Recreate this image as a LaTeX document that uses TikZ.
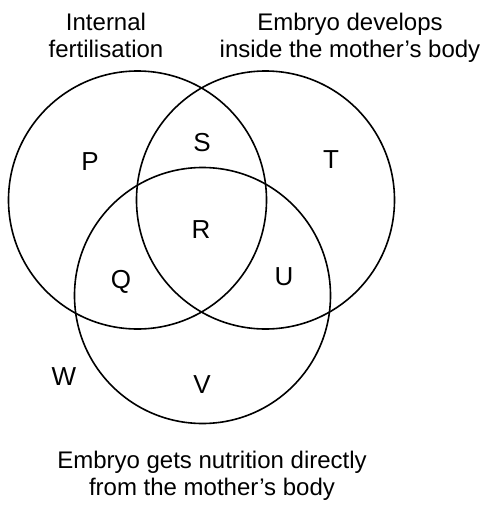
\documentclass[tikz,border=0pt]{standalone}
\usepackage{fontspec}
\setmainfont{Liberation Sans}
\usetikzlibrary{positioning}

\begin{document}
\begin{tikzpicture}[x=1pt,y=-1pt,
  ring/.style={draw,line width=1.6pt},
  zone/.style={font=\fontsize{26}{26}\selectfont,inner sep=0pt},
  ttl/.style={font=\fontsize{24}{27}\selectfont,align=center,inner sep=0pt,anchor=north}]
  \useasboundingbox (0,0) rectangle (483,509);
  \coordinate (cFert) at (137.5,200);
  \coordinate (cWomb) at (265.5,200);
  \coordinate (cFeed) at (202.5,295.5);
  \draw[ring] (cFert) circle[radius=129pt];
  \draw[ring] (cWomb) circle[radius=129pt];
  \draw[ring] (cFeed) circle[radius=128pt];
  % region letters
  \node[zone] (P) at (90,162) {P};
  \node[zone] (S) at (202,143) {S};
  \node[zone] (T) at (331,160) {T};
  \node[zone] (R) at (201,230) {R};
  \node[zone] (Q) at (121,282) {Q};
  \node[zone] (U) at (284,277) {U};
  \node[zone] (W) at (64,377) {W};
  \node[zone] (V) at (202,385) {V};
  % set titles
  \node[ttl] (fert) at (106,12.5) {Internal\\fertilisation};
  \node[ttl] (womb) at (350,12.5) {Embryo develops\\inside the mother’s body};
  \node[ttl] (feed) at (212,450.5) {Embryo gets nutrition directly\\from the mother’s body};
\end{tikzpicture}
\end{document}
